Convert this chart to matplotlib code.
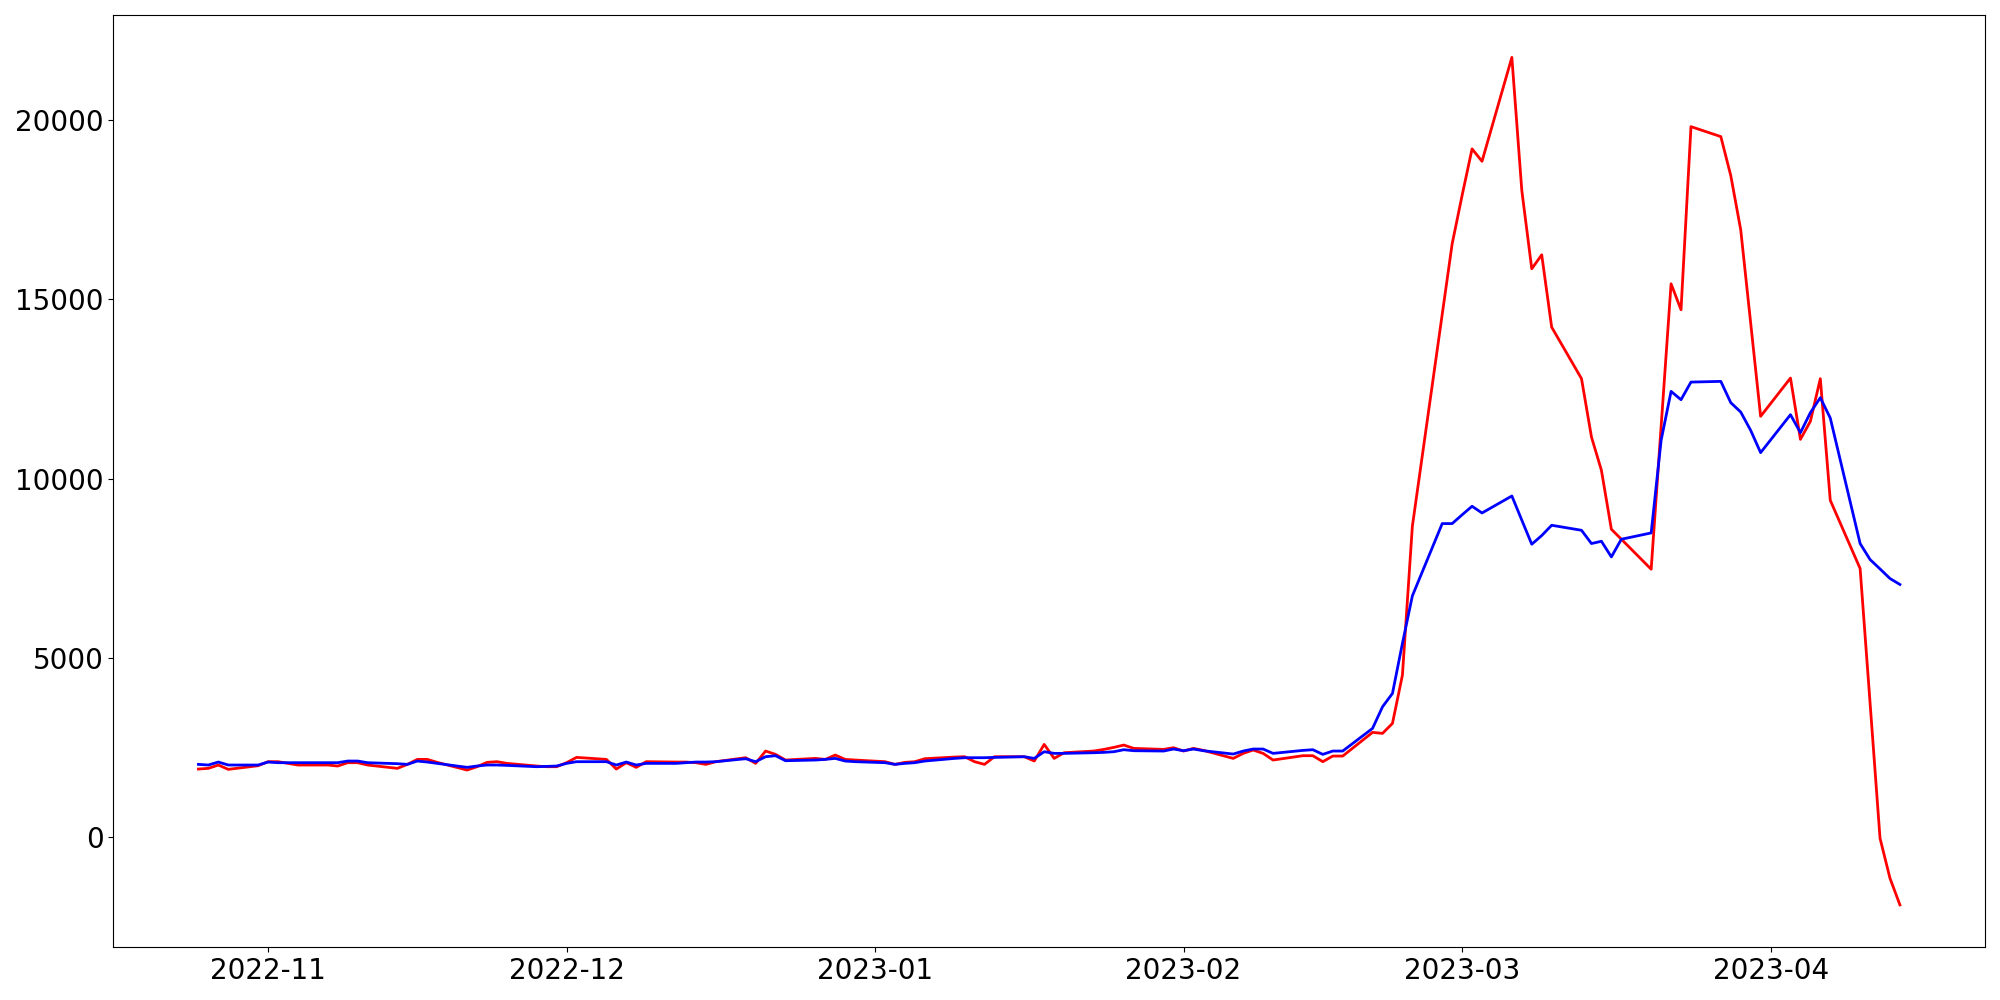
import matplotlib
matplotlib.use("Agg")
import matplotlib.pyplot as plt
import pandas as pd

# business days from 2022-10-25 to 2023-04-14
dates = pd.bdate_range("2022-10-25", "2023-04-14")

actual = [
    1898, 1917, 2010, 1889,
    1991, 2103, 2103, 2056, 2010,
    2010, 1982, 2075, 2075, 2010,
    1917, 2028, 2167, 2167, 2084,
    1870, 1963, 2084, 2103, 2056,
    1982, 1963, 1963, 2075, 2223,
    2167, 1898, 2075, 1945, 2103,
    2093, 2093, 2075, 2028, 2103,
    2214, 2056, 2400, 2307, 2149,
    2195, 2167, 2288, 2167, 2149,
    2103, 2028, 2084, 2103, 2186,
    2232, 2242, 2103, 2028, 2242,
    2242, 2121, 2585, 2195, 2353,
    2400, 2446, 2502, 2567, 2474,
    2446, 2493, 2400, 2474, 2418,
    2195, 2335, 2428, 2335, 2149,
    2270, 2270, 2103, 2260, 2260,
    2921, 2893, 3171, 4515, 8670,
    14580, 16550, 17900, 19197, 18851,
    21750, 18035, 15852, 16243, 14225,
    12787, 11160, 10231, 8587, 8310,
    7472, 11450, 15434, 14710, 19818,
    19540, 18452, 16940, 14340, 11737,
    12804, 11095, 11597, 12787, 9395,
    7491, 3740, -33, -1148, -1892,
]

predicted = [
    2028, 2010, 2093, 2010,
    2010, 2093, 2075, 2075, 2075,
    2075, 2075, 2121, 2121, 2075,
    2047, 2028, 2121, 2093, 2056,
    1945, 1982, 2010, 2010, 2000,
    1963, 1972, 1982, 2056, 2103,
    2103, 2010, 2093, 2010, 2056,
    2056, 2075, 2093, 2093, 2103,
    2186, 2103, 2242, 2270, 2130,
    2149, 2167, 2195, 2121, 2103,
    2075, 2028, 2056, 2075, 2121,
    2195, 2214, 2214, 2214, 2223,
    2242, 2195, 2381, 2335, 2335,
    2353, 2363, 2381, 2437, 2409,
    2400, 2456, 2409, 2456, 2409,
    2316, 2400, 2456, 2456, 2335,
    2418, 2437, 2307, 2400, 2400,
    3032, 3634, 4007, 5400, 6728,
    8745, 8745, 8990, 9228, 9041,
    9515, 8840, 8169, 8411, 8698,
    8558, 8188, 8252, 7815, 8308,
    8484, 11068, 12433, 12201, 12692,
    12712, 12118, 11857, 11346, 10724,
    11783, 11281, 11839, 12257, 11689,
    8188, 7742, 7480, 7213, 7046,
]

fig, ax = plt.subplots(figsize=(20, 10), dpi=100)
ax.plot(dates, actual, color='red', linewidth=2)
ax.plot(dates, predicted, color='blue', linewidth=2)
ax.tick_params(axis='both', labelsize=20)

plt.tight_layout()
plt.savefig("out.png")
